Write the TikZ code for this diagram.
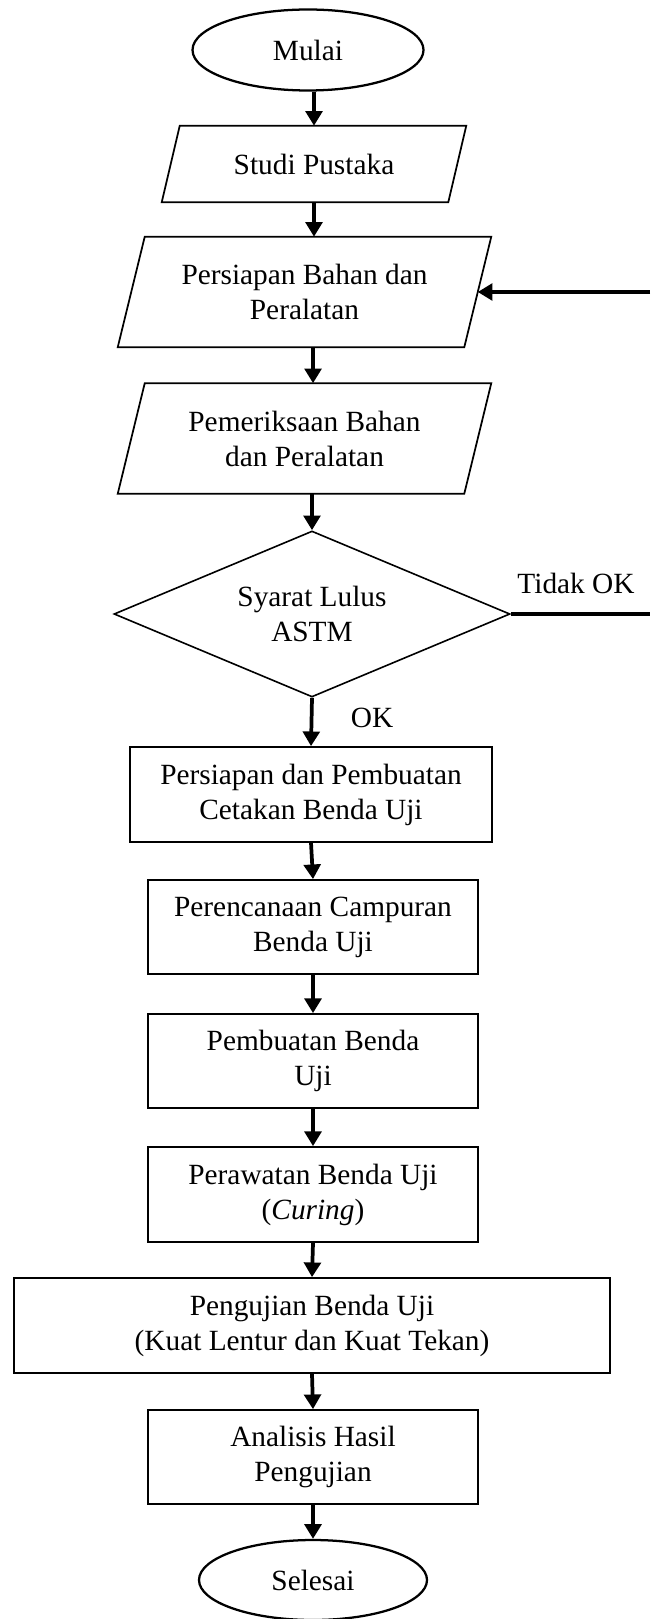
\documentclass[tikz,border=0pt]{standalone}
\usepackage{fontspec}
\setmainfont{Liberation Serif}
\usetikzlibrary{shapes.geometric,arrows.meta,calc}
\newcommand\drawpara[2]{\draw[line width=1.3pt] ([xshift=#2]#1.north west) -- (#1.north east) -- ([xshift=-#2]#1.south east) -- (#1.south west) -- cycle;}
\begin{document}
\begin{tikzpicture}[x=0.75pt,y=-0.75pt,
  txt/.style={font=\fontsize{22pt}{26.25pt}\selectfont, align=center},
  term/.style={txt, ellipse, draw, line width=1.7pt, inner sep=0pt},
  procbox/.style={txt, rectangle, draw, line width=1.3pt, inner sep=0pt},
  iobox/.style={txt, rectangle, inner sep=0pt},
  decbox/.style={txt, diamond, draw, line width=1.2pt, inner sep=0pt, shape aspect=2.4},
  conn/.style={line width=2.8pt},
  arr/.style={conn, -{Triangle[length=11pt,width=12.5pt]}},
  lbl/.style={txt}
]
\useasboundingbox[fill=white] (0,0) rectangle (650,1619);

\node[term, minimum width=173.25pt, minimum height=60.75pt] (mulai) at (308,50) {Mulai};
\node[iobox, minimum width=228pt, minimum height=57pt] (studi) at (314,164) {Studi Pustaka};
\drawpara{studi}{13.5pt}
\node[iobox, minimum width=279.75pt, minimum height=82.5pt] (pers) at (304.5,292) {Persiapan Bahan dan\\Peralatan};
\drawpara{pers}{20.25pt}
\node[iobox, minimum width=279.75pt, minimum height=82.5pt] (pem) at (304.5,438.5) {Pemeriksaan Bahan\\dan Peralatan};
\drawpara{pem}{20.25pt}
\node[decbox, minimum width=297pt, minimum height=124.5pt] (dia) at (312,614) {Syarat Lulus\\ASTM};
\node[procbox, minimum width=271.5pt, minimum height=71.25pt] (box1) at (311,794.5) {Persiapan dan Pembuatan\\Cetakan Benda Uji};
\node[procbox, minimum width=247.5pt, minimum height=70.5pt] (box2) at (313,927) {Perencanaan Campuran\\Benda Uji};
\node[procbox, minimum width=247.5pt, minimum height=70.5pt] (box3) at (313,1061) {Pembuatan Benda\\Uji};
\node[procbox, minimum width=247.5pt, minimum height=71.25pt] (box4) at (313,1194.5) {Perawatan Benda Uji\\(\textit{Curing})};
\node[procbox, minimum width=447pt, minimum height=71.25pt] (box5) at (312,1325.5) {Pengujian Benda Uji\\(Kuat Lentur dan Kuat Tekan)};
\node[procbox, minimum width=247.5pt, minimum height=70.5pt] (box6) at (313,1457) {Analisis Hasil\\Pengujian};
\node[term, minimum width=171pt, minimum height=60pt] (selesai) at (313,1580) {Selesai};

\node[lbl] (tidak) at (576,583) {Tidak OK};
\node[lbl] (ok) at (372,718) {OK};

\coordinate (fbA) at (650,614);
\coordinate (fbB) at (650,292);

\draw[arr] (studi.north |- mulai.south) -- (studi.north);
\draw[arr] (studi.south) -- (studi.south |- pers.north);
\draw[arr] ([xshift=6.4pt]pers.south) -- ([xshift=6.4pt]pem.north);
\draw[arr] (pem.south -| dia.north) -- (dia.north);
\draw[arr] (dia.south) -- (box1.north);
\draw[arr] (box1.south) -- (box2.north);
\draw[arr] (box2.south) -- (box3.north);
\draw[arr] (box3.south) -- (box4.north);
\draw[arr] (box4.south) -- (box5.north);
\draw[arr] (box5.south) -- (box6.north);
\draw[arr] (box6.south) -- (selesai.north);
\draw[conn] (dia.east) -- (fbA);
\draw[arr] (fbB) -- ([xshift=-10.125pt]pers.east);
\end{tikzpicture}
\end{document}
